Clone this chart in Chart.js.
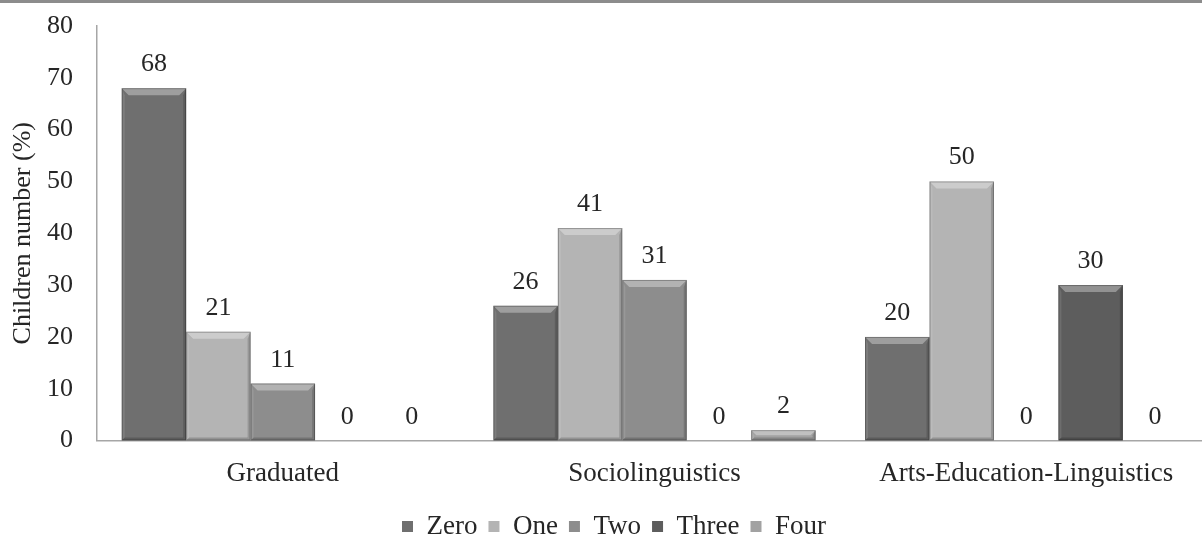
<!DOCTYPE html>
<html>
<head>
<meta charset="utf-8">
<script src="https://cdn.jsdelivr.net/npm/chart.js@4.4.1/dist/chart.umd.min.js"></script>
<style>
  html, body { margin: 0; padding: 0; background: #fff; overflow: hidden; width: 1202px; height: 537px; }
  #wrap { position: absolute; left: 0; top: 0; width: 1212px; height: 537px; }
  #rule { position: absolute; left: 0; top: 0; width: 1202px; height: 3px; background: #8c8c8c; }
</style>
</head>
<body>
<div id="wrap"><canvas id="chart"></canvas></div>
<div id="rule"></div>
<script>
// Share of children by number of children, per group
const categories = ['Graduated', 'Sociolinguistics', 'Arts-Education-Linguistics'];
const seriesNames = ['Zero', 'One', 'Two', 'Three', 'Four'];
const zeroValues  = [68, 26, 20];
const oneValues   = [21, 41, 50];
const twoValues   = [11, 31, 0];
const threeValues = [0, 0, 30];
const fourValues  = [0, 2, 0];
const yTickValues = [0, 10, 20, 30, 40, 50, 60, 70, 80];

const seriesValues = [zeroValues, oneValues, twoValues, threeValues, fourValues];
const seriesColors = ['#6f6f6f', '#b4b4b4', '#8d8d8d', '#5d5d5d', '#a2a2a2'];

const FONT = '"Liberation Serif", "Times New Roman", serif';
const TEXT = '#262626';

// Bevelled look for each bar: light top facet, shaded sides
const bevelPlugin = {
  id: 'bevel',
  afterDatasetsDraw(chart) {
    const ctx = chart.ctx;
    chart.data.datasets.forEach((ds, i) => {
      const meta = chart.getDatasetMeta(i);
      meta.data.forEach(el => {
        const p = el.getProps(['x', 'y', 'base', 'width'], true);
        const h = p.base - p.y;
        if (h < 1) return;
        const l = p.x - p.width / 2, r = p.x + p.width / 2, t = p.y, btm = p.base;
        const b = Math.min(7, h / 2);
        const s = Math.min(3, h / 3);
        ctx.save();
        // top facet
        ctx.beginPath();
        ctx.moveTo(l, t); ctx.lineTo(r, t); ctx.lineTo(r - b, t + b); ctx.lineTo(l + b, t + b); ctx.closePath();
        ctx.fillStyle = 'rgba(255,255,255,0.33)'; ctx.fill();
        // left facet
        ctx.beginPath();
        ctx.moveTo(l, t); ctx.lineTo(l + s, t + b); ctx.lineTo(l + s, btm - s); ctx.lineTo(l, btm); ctx.closePath();
        ctx.fillStyle = 'rgba(255,255,255,0.10)'; ctx.fill();
        // right facet
        ctx.beginPath();
        ctx.moveTo(r, t); ctx.lineTo(r - s, t + b); ctx.lineTo(r - s, btm - s); ctx.lineTo(r, btm); ctx.closePath();
        ctx.fillStyle = 'rgba(0,0,0,0.16)'; ctx.fill();
        // bottom facet
        ctx.beginPath();
        ctx.moveTo(l, btm); ctx.lineTo(l + s, btm - s); ctx.lineTo(r - s, btm - s); ctx.lineTo(r, btm); ctx.closePath();
        ctx.fillStyle = 'rgba(0,0,0,0.18)'; ctx.fill();
        // outline
        ctx.strokeStyle = 'rgba(0,0,0,0.28)'; ctx.lineWidth = 1;
        ctx.strokeRect(l + 0.5, t + 0.5, p.width - 1, h - 1);
        ctx.restore();
      });
    });
  }
};

// Value printed above every bar
const valueLabelPlugin = {
  id: 'valueLabels',
  afterDatasetsDraw(chart) {
    const ctx = chart.ctx;
    ctx.save();
    ctx.font = '26px ' + FONT;
    ctx.fillStyle = TEXT;
    ctx.textAlign = 'center';
    ctx.textBaseline = 'alphabetic';
    chart.data.datasets.forEach((ds, i) => {
      const meta = chart.getDatasetMeta(i);
      meta.data.forEach((el, j) => {
        const p = el.getProps(['x', 'y'], true);
        ctx.fillText(String(ds.data[j]), p.x, p.y - 17);
      });
    });
    ctx.restore();
  }
};

// Nudge the legend row into place under the axis labels
const legendOffsetPlugin = {
  id: 'legendOffset',
  afterLayout(chart) {
    const lg = chart.legend;
    if (!lg) return;
    const dx = 8, dy = 13;
    lg.left += dx; lg.right += dx;
    lg.top += dy; lg.bottom += dy;
  }
};

new Chart(document.getElementById('chart'), {
  type: 'bar',
  data: {
    labels: categories,
    datasets: seriesNames.map((name, i) => ({
      label: name,
      data: seriesValues[i],
      backgroundColor: seriesColors[i],
      borderWidth: 0,
      categoryPercentage: 0.867,
      barPercentage: 1.0
    }))
  },
  options: {
    responsive: true,
    maintainAspectRatio: false,
    animation: false,
    layout: { padding: { top: 26, left: 0, right: 0, bottom: 0 } },
    plugins: {
      tooltip: { enabled: false },
      legend: {
        position: 'bottom',
        labels: {
          font: { family: FONT, size: 27 },
          color: TEXT,
          boxWidth: 11,
          boxHeight: 11,
          padding: 11
        }
      }
    },
    scales: {
      x: {
        grid: { display: false, drawTicks: false },
        border: { display: true, color: '#a6a6a6', width: 1.5 },
        ticks: { font: { family: FONT, size: 27 }, color: TEXT, padding: 17, maxRotation: 0 },
        afterFit(scale) { scale.height = 48.5; }
      },
      y: {
        min: 0,
        max: 80,
        grid: { display: false, drawTicks: false },
        border: { display: true, color: '#a6a6a6', width: 1.5 },
        ticks: { font: { family: FONT, size: 26 }, color: TEXT, padding: 24 },
        afterBuildTicks(scale) { scale.ticks = yTickValues.map(v => ({ value: v })); },
        afterFit(scale) {
          scale.width = 97;
          scale.paddingTop = 0;
          scale.paddingBottom = 0;
        },
        title: {
          display: true,
          text: 'Children number (%)',
          font: { family: FONT, size: 26 },
          color: TEXT,
          padding: { top: 8, bottom: 0 }
        }
      }
    }
  },
  plugins: [bevelPlugin, valueLabelPlugin, legendOffsetPlugin]
});
</script>
</body>
</html>
